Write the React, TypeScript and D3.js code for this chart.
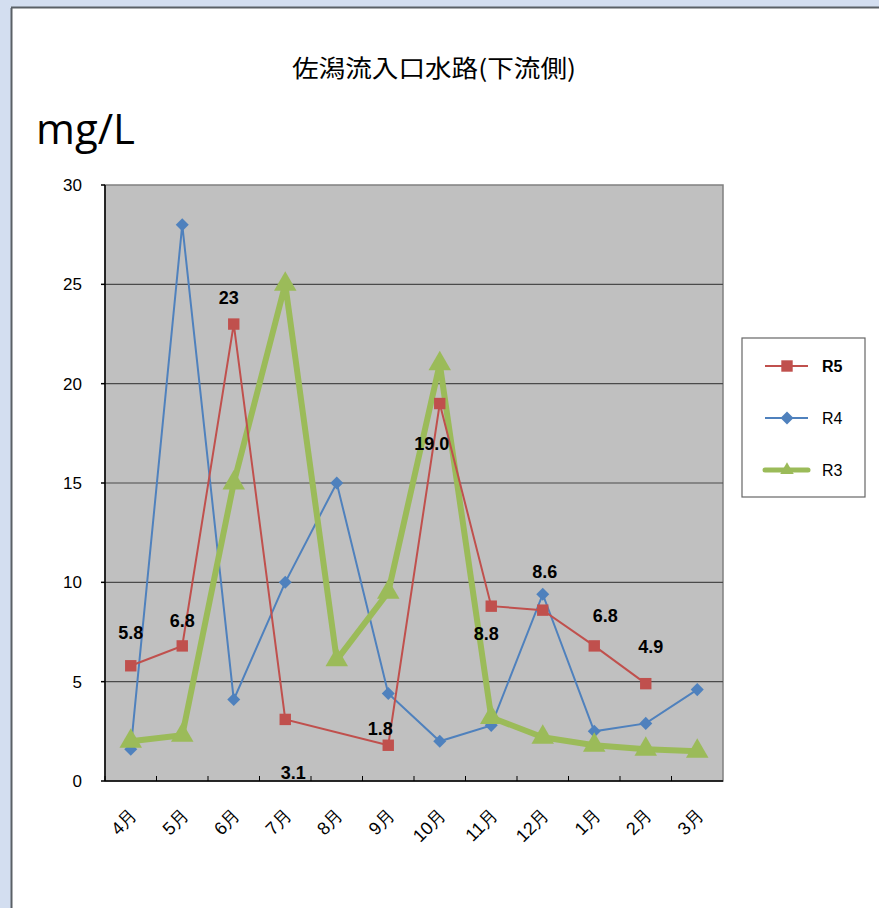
import React from "react";
import * as d3 from "d3";

const months = ["4月", "5月", "6月", "7月", "8月", "9月", "10月", "11月", "12月", "1月", "2月", "3月"];
const r5 = [5.8, 6.8, 23, 3.1, null, 1.8, 19.0, 8.8, 8.6, 6.8, 4.9, null];
const r4 = [1.6, 28, 4.1, 10, 15, 4.4, 2.0, 2.8, 9.4, 2.5, 2.9, 4.6];
const r3 = [2.0, 2.3, 15, 25, 6.1, 9.5, 21, 3.2, 2.2, 1.8, 1.6, 1.5];
const r5Labels = ["5.8", "6.8", "23", "3.1", null, "1.8", "19.0", "8.8", "8.6", "6.8", "4.9", null];
// label placement relative to point (style)
const r5LabelOffsets: [number, number][] = [
  [0, -33], [0, -25], [-5, -26], [8, 53], [0, 0], [-8, -17], [-8, 40], [-5, 28], [2, -38], [11, -30], [5, -37], [0, 0],
];
const yTicks = [0, 5, 10, 15, 20, 25, 30];
const title = "佐潟流入口水路(下流側)";
const unit = "mg/L";

const RED = "#c0504d";
const BLUE = "#4f81bd";
const GREEN = "#9bbb59";

const W = 879;
const H = 908;
const L = 105, R = 723, T = 185, B = 781;

export default function App() {
  const x = d3.scaleBand<string>().domain(months).range([L, R]);
  const y = d3.scaleLinear().domain([0, 30]).range([B, T]);
  const cx = (m: string) => (x(m) as number) + x.bandwidth() / 2;

  const pts = (arr: (number | null)[]) =>
    arr.map((v, i) => ({ m: months[i], v })).filter((d) => d.v !== null) as { m: string; v: number }[];

  const line = d3
    .line<{ m: string; v: number }>()
    .x((d) => cx(d.m))
    .y((d) => y(d.v));

  const sq = d3.symbol().type(d3.symbolSquare).size(130)() as string;
  const dia = d3.symbol().type(d3.symbolSquare).size(85)() as string;
  const tri = d3.symbol().type(d3.symbolTriangle).size(220)() as string;

  const font = "'Liberation Sans', Arial, sans-serif";

  const legendItems = [
    { name: "R5", color: RED, w: 2, sym: sq, rot: 0, bold: true, symSize: 1 },
    { name: "R4", color: BLUE, w: 2, sym: dia, rot: 45, bold: false, symSize: 1 },
    { name: "R3", color: GREEN, w: 5, sym: tri, rot: 0, bold: false, symSize: 0.6 },
  ];

  return (
    <svg width={W} height={H} style={{ position: "absolute", left: 0, top: 0 }} xmlns="http://www.w3.org/2000/svg">
      <rect x={0} y={0} width={W} height={H} fill="#d3def0" />
      <rect x={12} y={8} width={W} height={H} fill="#ffffff" />
      <line x1={11.5} y1={8} x2={11.5} y2={H} stroke="#5a6066" strokeWidth={2} />
      <line x1={11} y1={7.5} x2={W} y2={7.5} stroke="#5a6066" strokeWidth={2} />

      <text x={434} y={77} textAnchor="middle" fontFamily="'Noto Sans CJK JP', sans-serif" fontSize={24} textLength={284} lengthAdjust="spacingAndGlyphs" fill="#000">
        {title}
      </text>
      <text x={36} y={144} fontFamily="'Open Sans', 'Noto Sans', sans-serif" fontSize={42} fill="#000" textLength={99} lengthAdjust="spacingAndGlyphs">
        {unit}
      </text>

      {/* plot area */}
      <rect x={L} y={T} width={R - L} height={B - T} fill="#c0c0c0" stroke="#808080" strokeWidth={1.5} />
      {yTicks.slice(1, -1).map((t) => (
        <line key={t} x1={L} x2={R} y1={y(t)} y2={y(t)} stroke="#4a4a4a" strokeWidth={1.2} />
      ))}
      {/* y axis */}
      <line x1={L} x2={L} y1={T} y2={B} stroke="#000" strokeWidth={1.5} />
      {yTicks.map((t) => (
        <g key={t}>
          <line x1={L - 4} x2={L} y1={y(t)} y2={y(t)} stroke="#000" strokeWidth={1.5} />
          <text x={82} y={y(t)} dy="0.35em" textAnchor="end" fontFamily={font} fontSize={17} fill="#000">
            {t}
          </text>
        </g>
      ))}
      {/* x axis */}
      <line x1={L} x2={R} y1={B} y2={B} stroke="#000" strokeWidth={1.5} />
      {months.map((m, i) => (
        <line key={"t" + i} x1={(x(m) as number)} x2={(x(m) as number)} y1={B} y2={B - 5} stroke="#000" strokeWidth={1} />
      ))}
      {months.map((m) => (
        <text
          key={m}
          transform={`translate(${cx(m) + 3},${B + 31}) rotate(-45)`}
          textAnchor="end"
          dy="0.35em"
          fontFamily={font}
          fontSize={18}
          fill="#000"
        >
          {m}
        </text>
      ))}

      {/* R4 */}
      <path d={line(pts(r4)) as string} fill="none" stroke={BLUE} strokeWidth={2} />
      {pts(r4).map((d, i) => (
        <path key={"b" + i} d={dia} transform={`translate(${cx(d.m)},${y(d.v)}) rotate(45)`} fill={BLUE} />
      ))}
      {/* R3 */}
      <path d={line(pts(r3)) as string} fill="none" stroke={GREEN} strokeWidth={6} strokeLinejoin="round" />
      {pts(r3).map((d, i) => (
        <path key={"g" + i} d={tri} transform={`translate(${cx(d.m)},${y(d.v)})`} fill={GREEN} />
      ))}
      {/* R5 */}
      <path d={line(pts(r5)) as string} fill="none" stroke={RED} strokeWidth={2} />
      {pts(r5).map((d, i) => (
        <path key={"r" + i} d={sq} transform={`translate(${cx(d.m)},${y(d.v)})`} fill={RED} />
      ))}
      {/* labels */}
      {r5.map((v, i) =>
        v === null || r5Labels[i] === null ? null : (
          <text
            key={"l" + i}
            x={cx(months[i]) + r5LabelOffsets[i][0]}
            y={y(v) + r5LabelOffsets[i][1]}
            dy="0.35em"
            textAnchor="middle"
            fontFamily={font}
            fontWeight="bold"
            fontSize={18}
            fill="#000"
          >
            {r5Labels[i]}
          </text>
        )
      )}

      {/* legend */}
      <rect x={742} y={338} width={123} height={159} fill="#fff" stroke="#666" strokeWidth={1.2} />
      {legendItems.map((it, i) => {
        const ly = 366 + i * 52;
        return (
          <g key={it.name}>
            <line x1={765} x2={808} y1={ly} y2={ly} stroke={it.color} strokeWidth={it.w} strokeLinecap={it.w > 3 ? "round" : "butt"} />
            <path d={it.sym} transform={`translate(787,${ly}) rotate(${it.rot}) scale(${it.symSize})`} fill={it.color} />
            <text x={822} y={ly} dy="0.35em" fontFamily={font} fontSize={16} fontWeight={it.bold ? "bold" : "normal"} fill="#000">
              {it.name}
            </text>
          </g>
        );
      })}
    </svg>
  );
}
